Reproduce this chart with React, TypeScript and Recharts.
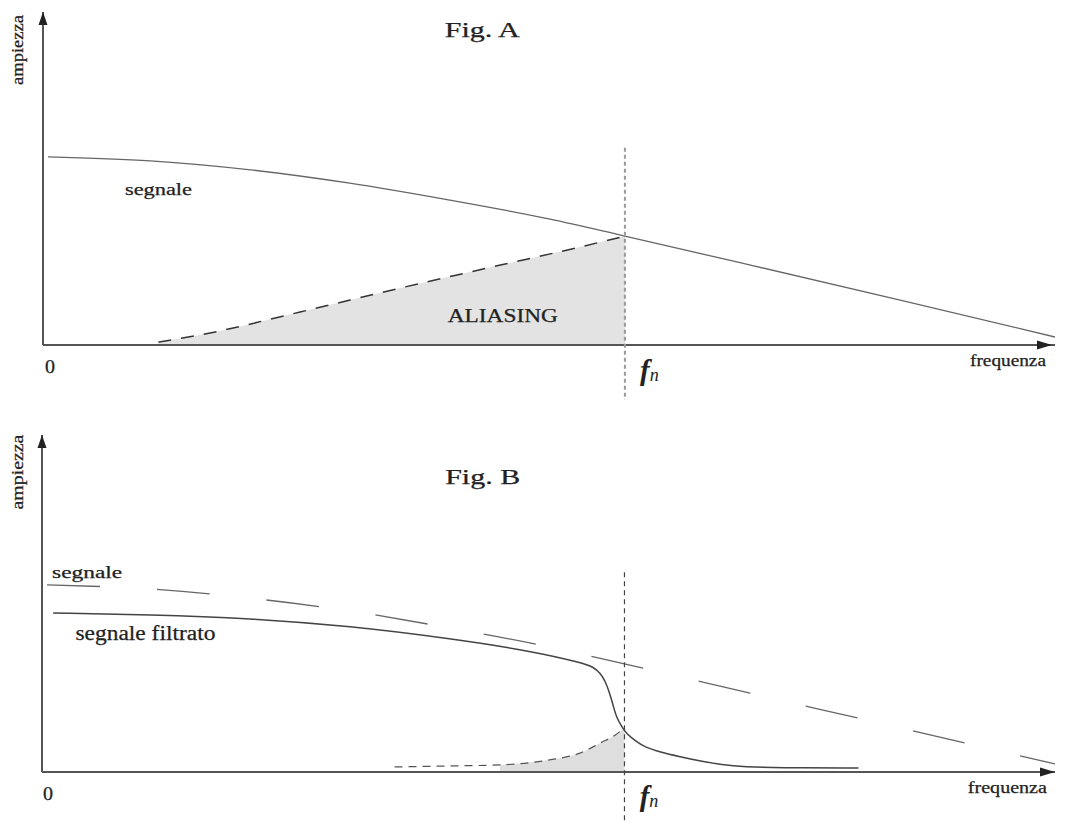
import React from 'react';
import { ComposedChart, Line, Area, XAxis, YAxis, ReferenceLine, ReferenceDot } from 'recharts';

// ---------- Fig. A data ----------
const FA_SIG = [0.05, 1.06, 2.05, 3.03, 4.02, 5.01, 5.75, 6.99, 8.47, 10.0];
const AA_SIG = [5.65, 5.53, 5.26, 4.86, 4.35, 3.78, 3.27, 2.4, 1.35, 0.24];
const FA_ALIAS = [1.14, 1.55, 2.54, 3.53, 4.52, 5.26, 5.75];
const AA_ALIAS = [0.09, 0.3, 0.99, 1.71, 2.4, 2.91, 3.27];

// ---------- Fig. B data ----------
const FB_SIG = [0.05, 1.07, 2.05, 3.04, 4.03, 5.01, 5.76, 6.99, 8.47, 10.0];
const AB_SIG = [5.55, 5.43, 5.16, 4.78, 4.27, 3.71, 3.2, 2.34, 1.31, 0.24];
const FB_FILT = [0.11, 0.11, 1.07, 2.05, 3.04, 4.03, 4.85, 5.34, 5.44, 5.51, 5.56, 5.6, 5.64, 5.67, 5.72, 5.77, 5.86, 5.95, 6.1, 6.3, 6.5, 6.79, 7.29, 8.06, 8.06];
const AB_FILT = [4.72, 4.72, 4.67, 4.56, 4.33, 3.96, 3.58, 3.23, 3.12, 2.94, 2.7, 2.37, 1.96, 1.63, 1.36, 1.13, 0.92, 0.74, 0.59, 0.45, 0.32, 0.17, 0.12, 0.12, 0.12];
const FB_ALIAS = [3.48, 4.03, 4.52, 5.01, 5.31, 5.51, 5.66, 5.75];
const AB_ALIAS = [0.15, 0.18, 0.21, 0.36, 0.56, 0.86, 1.1, 1.31];

const F_NYQ = 5.75;
const X_DOMAIN = [0, 10];
const Y_DOMAIN = [0, 10];

const zip = (f: number[], a: number[]) => f.map((x, i) => ({ f: x, a: a[i] }));

const sigA = zip(FA_SIG, AA_SIG);
const aliasA = zip(FA_ALIAS, AA_ALIAS);
const sigB = zip(FB_SIG, AB_SIG);
const filtB = zip(FB_FILT, AB_FILT);
const aliasB = zip(FB_ALIAS, AB_ALIAS);
const aliasBFill = aliasB.filter((d) => d.f >= 4.5);

const FONT = '"Liberation Serif", "DejaVu Serif", serif';
const INK = '#222';

type TxtProps = {
  cx?: number;
  cy?: number;
  text: string;
  size: number;
  w?: number;
  anchor?: 'start' | 'middle' | 'end';
  rotate?: boolean;
};

const Txt = ({ cx = 0, cy = 0, text, size, w, anchor = 'start', rotate }: TxtProps) => (
  <text
    x={cx}
    y={cy}
    fontFamily={FONT}
    fontSize={size}
    fill={INK}
    stroke={INK}
    strokeWidth={0.25}
    textAnchor={anchor}
    textLength={w}
    lengthAdjust={w ? 'spacingAndGlyphs' : undefined}
    transform={rotate ? `rotate(-90 ${cx} ${cy})` : undefined}
  >
    {text}
  </text>
);

const Fn = ({ cx = 0, cy = 0 }: { cx?: number; cy?: number }) => (
  <text x={cx} y={cy} fontFamily={FONT} fontStyle="italic" fontWeight="bold" fill="#222" fontSize={29}>
    f<tspan fontSize={18} fontWeight="normal" dy={1}>n</tspan>
  </text>
);

const ArrowUp = ({ cx = 0, cy = 0 }: { cx?: number; cy?: number }) => (
  <path d={`M${cx},${cy} L${cx - 4.5},${cy + 13} L${cx + 4.5},${cy + 13} Z`} fill="#222" />
);
const ArrowRight = ({ cx = 0, cy = 0 }: { cx?: number; cy?: number }) => (
  <path d={`M${cx},${cy} L${cx - 15},${cy - 4.5} L${cx - 15},${cy + 4.5} Z`} fill="#222" />
);

const label = (x: number, y: number, props: Omit<TxtProps, 'cx' | 'cy'>, key: string) => (
  <ReferenceDot
    key={key}
    x={x}
    y={y}
    r={0}
    ifOverflow="visible"
    shape={(p: any) => <Txt cx={p.cx} cy={p.cy} {...props} />}
  />
);

const axes = (k: string) => [
  <XAxis key={k + 'x'} dataKey="f" type="number" domain={X_DOMAIN} allowDataOverflow hide />,
  <YAxis key={k + 'y'} type="number" domain={Y_DOMAIN} allowDataOverflow hide />,
  <ReferenceLine key={k + 'h'} y={0} stroke="#555" strokeWidth={2} ifOverflow="visible" />,
  <ReferenceLine key={k + 'v'} x={0} stroke="#555" strokeWidth={2} ifOverflow="visible" />,
];

export default function App() {
  return (
    <div style={{ position: 'absolute', left: 0, top: 0, width: 1065, height: 823, background: '#fff' }}>
      {/* Fig. A */}
      <div style={{ position: 'absolute', left: 0, top: 0 }}>
        <ComposedChart width={1065} height={411} margin={{ top: 12, right: 10, left: 43, bottom: 66 }}>
          {axes('a')}
          <Area
            data={aliasA}
            dataKey="a"
            type="monotone"
            fill="#e3e3e3"
            fillOpacity={1}
            stroke="#333"
            strokeWidth={1.5}
            strokeDasharray="13 10"
            isAnimationActive={false}
          />
          <Line
            data={sigA}
            dataKey="a"
            type="monotone"
            dot={false}
            stroke="#666"
            strokeWidth={1.3}
            isAnimationActive={false}
          />
          <ReferenceLine
            segment={[
              { x: F_NYQ, y: 5.92 },
              { x: F_NYQ, y: -1.65 },
            ]}
            ifOverflow="visible"
            stroke="#9a9a9a"
            strokeWidth={2}
            strokeDasharray="4 3"
          />
          <ReferenceDot x={0} y={10} r={0} ifOverflow="visible" shape={(p: any) => <ArrowUp cx={p.cx} cy={p.cy} />} />
          <ReferenceDot x={10} y={0} r={0} ifOverflow="visible" shape={(p: any) => <ArrowRight cx={p.cx - 3} cy={p.cy} />} />
          {label(3.97, 9.25, { text: 'Fig. A', size: 20, w: 75 }, 'ta')}
          {label(0.81, 4.5, { text: 'segnale', size: 16, w: 67 }, 'sa')}
          {label(4.0, 0.69, { text: 'ALIASING', size: 18, w: 110 }, 'al')}
          {label(0.07, -0.84, { text: '0', size: 18, w: 10, anchor: 'middle' }, 'za')}
          {label(9.16, -0.63, { text: 'frequenza', size: 16, w: 76 }, 'fa')}
          {label(-0.2, 8.86, { text: 'ampiezza', size: 16, w: 70, anchor: 'middle', rotate: true }, 'aa')}
          <ReferenceDot x={5.9} y={-1.05} r={0} ifOverflow="visible" shape={(p: any) => <Fn cx={p.cx} cy={p.cy} />} />
        </ComposedChart>
      </div>

      {/* Fig. B */}
      <div style={{ position: 'absolute', left: 0, top: 411 }}>
        <ComposedChart width={1065} height={412} margin={{ top: 24, right: 10, left: 42, bottom: 51 }}>
          {axes('b')}
          <Area
            data={aliasBFill}
            dataKey="a"
            type="monotone"
            fill="#dedede"
            fillOpacity={1}
            stroke="none"
            isAnimationActive={false}
          />
          <Line
            data={aliasB}
            dataKey="a"
            type="monotone"
            dot={false}
            stroke="#555"
            strokeWidth={1.2}
            strokeDasharray="8 6"
            isAnimationActive={false}
          />
          <Line
            data={sigB}
            dataKey="a"
            type="monotone"
            dot={false}
            stroke="#666"
            strokeWidth={1.3}
            strokeDasharray="53 57"
            isAnimationActive={false}
          />
          <Line
            data={filtB}
            dataKey="a"
            type="basis"
            dot={false}
            stroke="#444"
            strokeWidth={1.5}
            isAnimationActive={false}
          />
          <ReferenceLine
            segment={[
              { x: F_NYQ, y: 5.93 },
              { x: F_NYQ, y: -1.55 },
            ]}
            ifOverflow="visible"
            stroke="#444"
            strokeWidth={1.2}
            strokeDasharray="5 4"
          />
          <ReferenceDot x={0} y={10} r={0} ifOverflow="visible" shape={(p: any) => <ArrowUp cx={p.cx} cy={p.cy} />} />
          <ReferenceDot x={10} y={0} r={0} ifOverflow="visible" shape={(p: any) => <ArrowRight cx={p.cx} cy={p.cy} />} />
          {label(3.98, 8.55, { text: 'Fig. B', size: 20, w: 75 }, 'tb')}
          {label(0.1, 5.76, { text: 'segnale', size: 16, w: 70 }, 'sb')}
          {label(0.33, 3.92, { text: 'segnale filtrato', size: 20, w: 140 }, 'sf')}
          {label(0.06, -0.83, { text: '0', size: 18, w: 10, anchor: 'middle' }, 'zb')}
          {label(9.14, -0.62, { text: 'frequenza', size: 16, w: 79 }, 'fb')}
          {label(-0.19, 8.9, { text: 'ampiezza', size: 16, w: 75, anchor: 'middle', rotate: true }, 'ab')}
          <ReferenceDot x={5.9} y={-1.01} r={0} ifOverflow="visible" shape={(p: any) => <Fn cx={p.cx} cy={p.cy} />} />
        </ComposedChart>
      </div>
    </div>
  );
}
